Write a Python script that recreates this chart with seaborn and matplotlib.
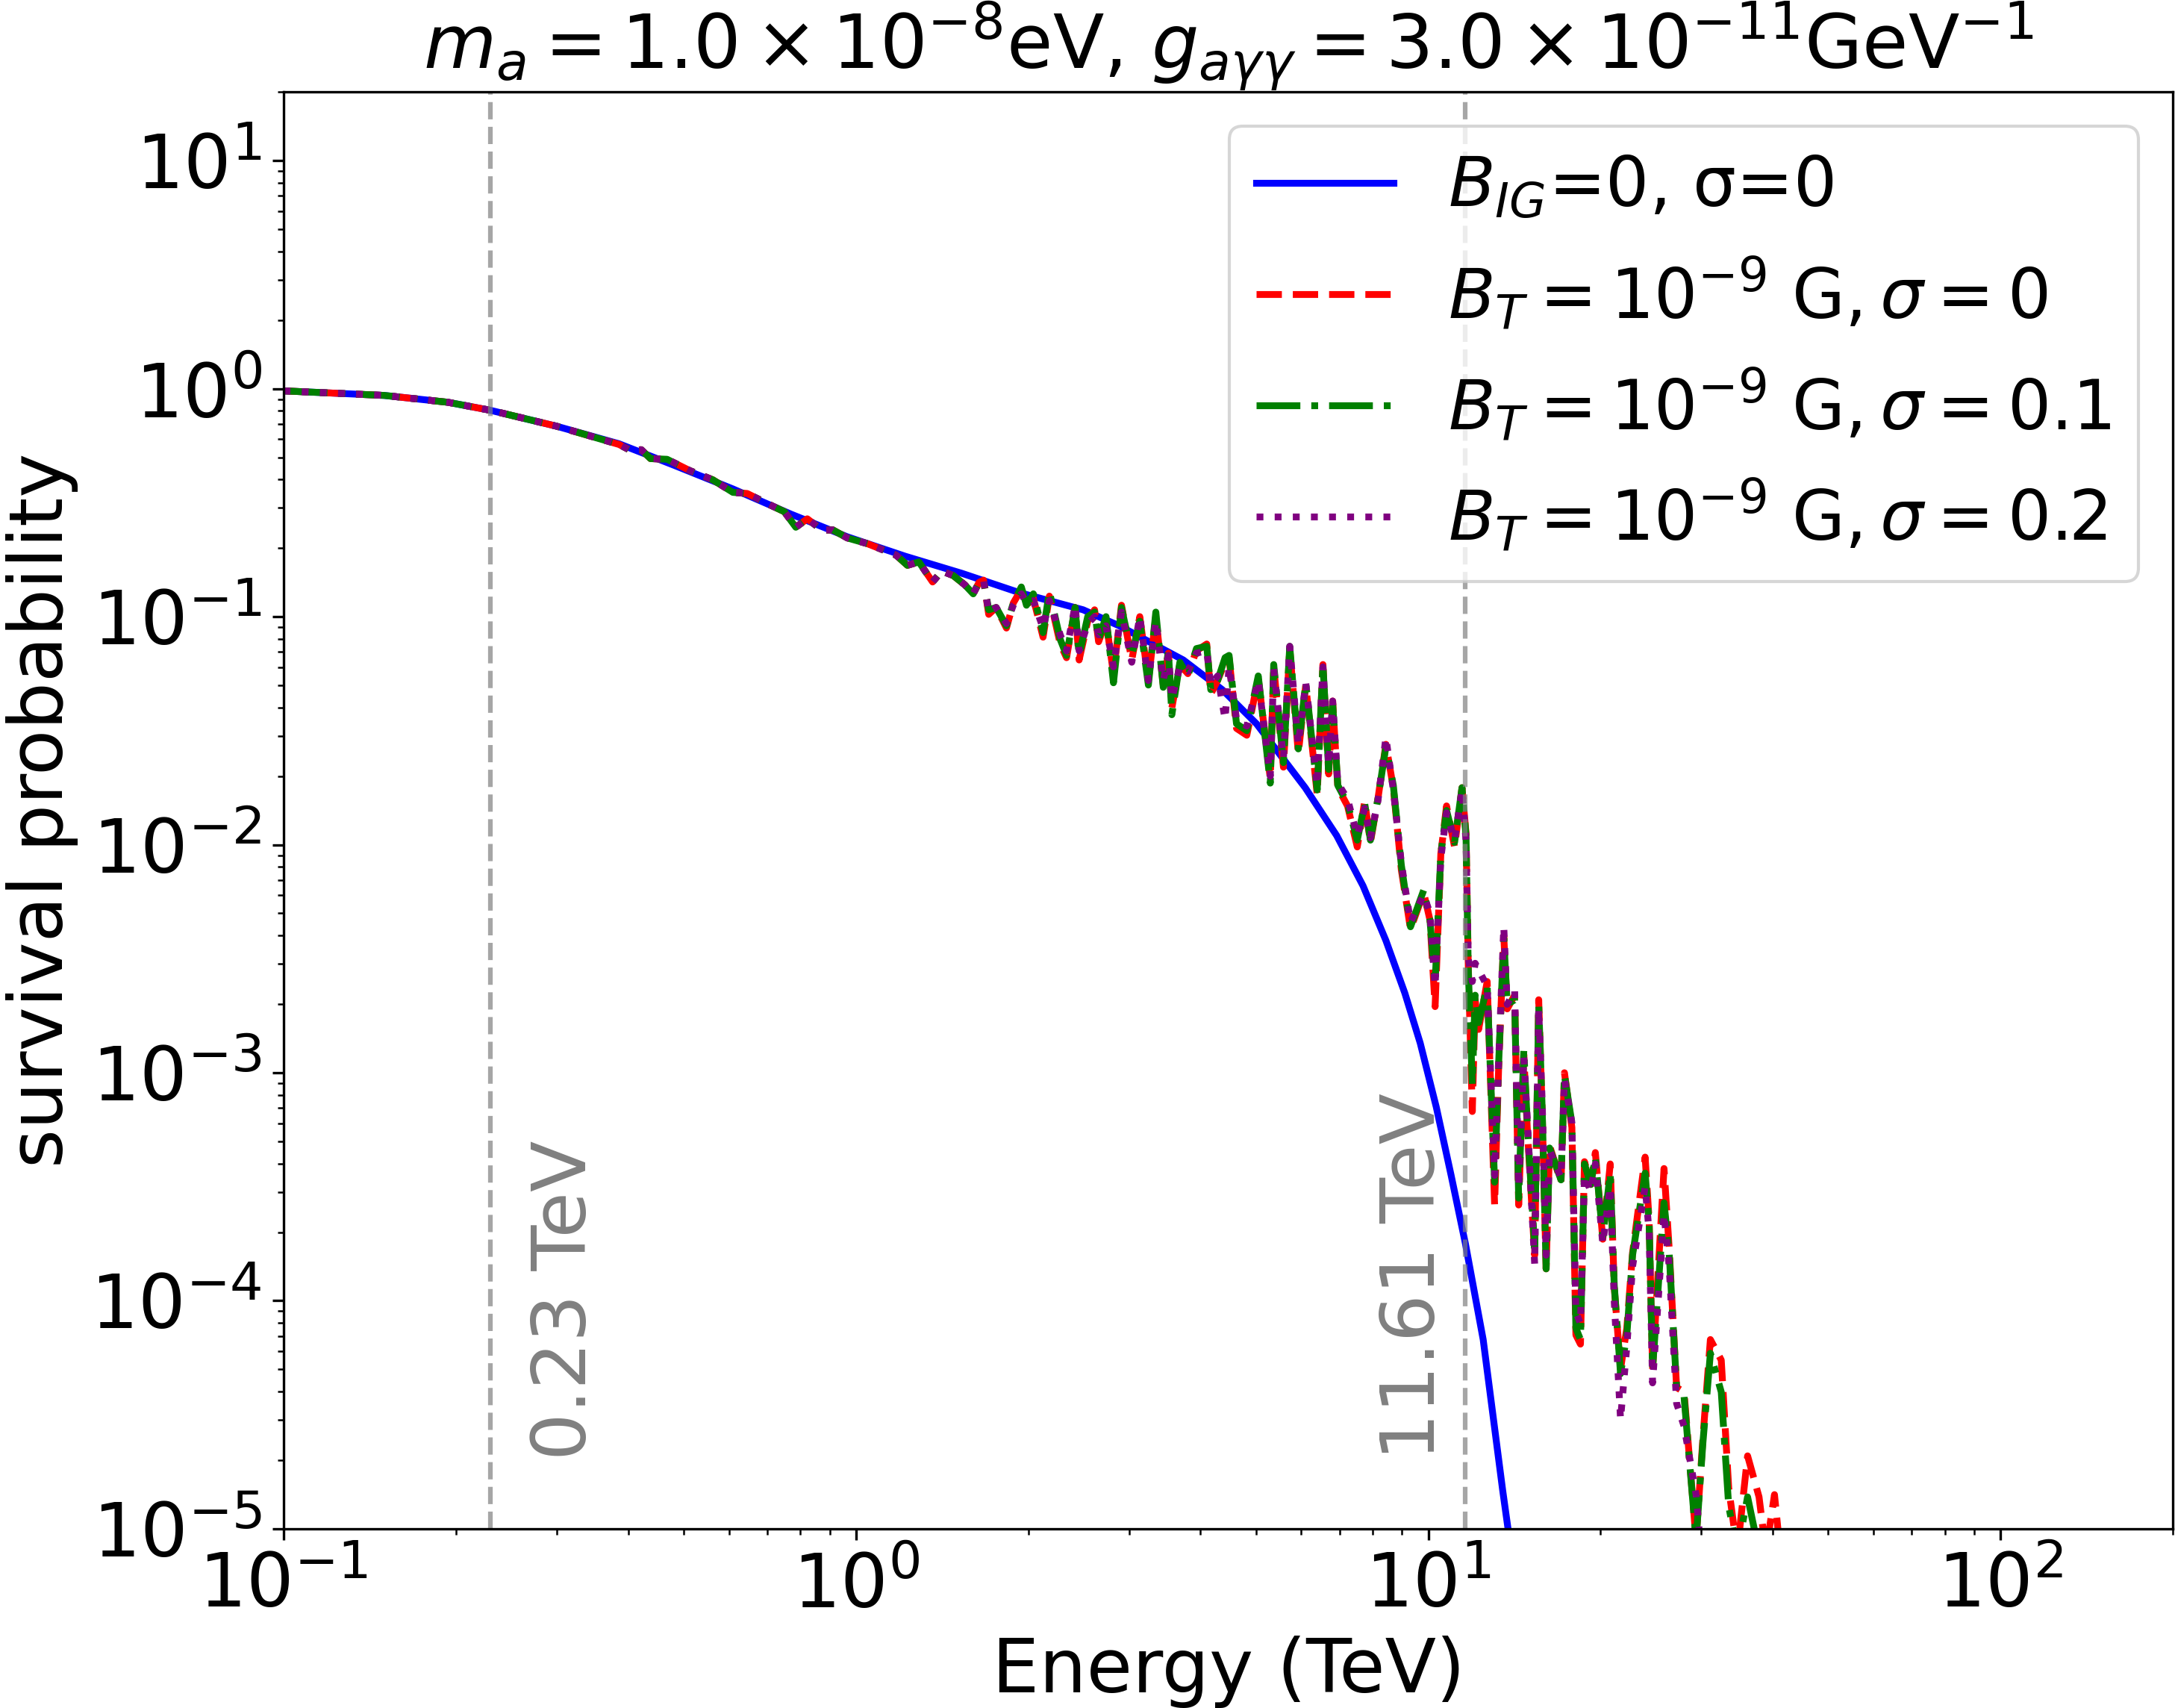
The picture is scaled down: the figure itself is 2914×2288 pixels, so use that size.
import matplotlib.pyplot as plt
import numpy as np
import pandas as pd
import seaborn as sns

# values, stored as log10(energy / TeV) and log10(probability)
blue_log_e = [-1.000, -0.824, -0.713, -0.639, -0.523, -0.414, -0.319, -0.215, -0.114, -0.015,
              0.086, 0.185, 0.286, 0.397, 0.460, 0.572, 0.640, 0.700, 0.785, 0.840,
              0.886, 0.926, 0.959, 0.986, 1.014, 1.040, 1.065, 1.096, 1.130, 1.145]
blue_log_p = [-0.010, -0.030, -0.060, -0.095, -0.165, -0.242, -0.335, -0.440, -0.550, -0.650,
              -0.735, -0.810, -0.895, -0.970, -1.040, -1.190, -1.320, -1.470, -1.750, -1.960,
              -2.180, -2.420, -2.650, -2.870, -3.150, -3.450, -3.750, -4.170, -4.830, -5.100]

# low-energy part where the three B_T curves lie on top of each other
low_log_e = [-1.000, -0.824, -0.713, -0.639, -0.523, -0.414, -0.394, -0.375, -0.359, -0.330,
             -0.290, -0.250, -0.215, -0.190, -0.150, -0.125, -0.105, -0.085, -0.070, -0.060,
             -0.040, -0.015, 0.020, 0.050, 0.070, 0.090, 0.110, 0.134, 0.150, 0.170,
             0.190, 0.205, 0.215, 0.223]
low_log_p = [-0.010, -0.030, -0.060, -0.095, -0.165, -0.245, -0.271, -0.268, -0.307, -0.310,
             -0.360, -0.400, -0.455, -0.460, -0.510, -0.540, -0.608, -0.571, -0.600, -0.620,
             -0.620, -0.655, -0.680, -0.710, -0.730, -0.775, -0.760, -0.848, -0.800, -0.820,
             -0.860, -0.900, -0.850, -0.840]

high_log_e = [0.232, 0.245, 0.263, 0.275, 0.289, 0.298, 0.310, 0.327, 0.338, 0.357,
              0.368, 0.383, 0.390, 0.405, 0.417, 0.424, 0.437, 0.450, 0.464, 0.482,
              0.496, 0.511, 0.524, 0.537, 0.546, 0.552, 0.566, 0.580, 0.595, 0.613,
              0.620, 0.632, 0.645, 0.652, 0.665, 0.683, 0.703, 0.724, 0.730, 0.747,
              0.758, 0.773, 0.786, 0.806, 0.816, 0.826, 0.833, 0.842, 0.859, 0.876,
              0.889, 0.899, 0.912, 0.926, 0.939, 0.953, 0.969, 0.992, 1.003, 1.012,
              1.022, 1.032, 1.046, 1.059, 1.066, 1.070, 1.077, 1.082, 1.088, 1.103,
              1.116, 1.123, 1.132, 1.138, 1.151, 1.158, 1.167, 1.173, 1.186, 1.193,
              1.199, 1.206, 1.212, 1.232, 1.238, 1.251, 1.258, 1.266, 1.273, 1.284,
              1.292, 1.305, 1.318, 1.325, 1.336, 1.347, 1.357, 1.379, 1.386, 1.392,
              1.412, 1.421, 1.434, 1.447, 1.468, 1.480, 1.493, 1.512, 1.525, 1.540,
              1.558, 1.578, 1.590, 1.605, 1.617]

red_log_p = [-0.99, -0.96, -1.05, -0.94, -0.88, -0.95, -0.92, -1.09, -0.91, -1.12,
             -1.18, -0.96, -1.19, -1.02, -0.97, -1.11, -1.02, -1.25, -0.95, -1.19,
             -1.00, -1.28, -1.00, -1.30, -1.16, -1.40, -1.21, -1.25, -1.15, -1.12,
             -1.34, -1.28, -1.20, -1.18, -1.49, -1.52, -1.27, -1.71, -1.22, -1.66,
             -1.14, -1.60, -1.30, -1.78, -1.21, -1.69, -1.37, -1.75, -1.83, -2.01,
             -1.81, -1.99, -1.80, -1.56, -1.75, -2.11, -2.37, -2.21, -2.33, -2.71,
             -2.04, -1.83, -2.01, -1.75, -1.95, -2.53, -3.17, -2.68, -2.81, -2.60,
             -3.58, -2.98, -2.40, -2.72, -2.66, -3.58, -2.92, -3.24, -3.80, -2.68,
             -3.16, -3.86, -3.32, -3.48, -3.00, -3.24, -4.15, -4.19, -3.39, -3.49,
             -3.35, -3.73, -3.40, -3.94, -4.30, -4.12, -3.79, -3.37, -3.65, -4.30,
             -3.42, -3.77, -4.38, -4.40, -5.05, -4.60, -4.17, -4.26, -4.82, -5.10,
             -4.68, -4.86, -5.10, -4.85, -5.15]

green_log_p = [-0.97, -0.96, -1.04, -0.94, -0.87, -0.95, -0.90, -1.07, -0.89, -1.10,
               -1.17, -0.96, -1.17, -1.00, -0.98, -1.10, -1.00, -1.29, -0.96, -1.17,
               -1.02, -1.30, -0.98, -1.31, -1.15, -1.43, -1.20, -1.26, -1.14, -1.13,
               -1.32, -1.28, -1.18, -1.17, -1.47, -1.50, -1.26, -1.73, -1.21, -1.64,
               -1.13, -1.58, -1.29, -1.76, -1.21, -1.67, -1.38, -1.74, -1.82, -1.98,
               -1.82, -1.98, -1.80, -1.57, -1.74, -2.09, -2.36, -2.20, -2.33, -2.61,
               -2.04, -1.85, -1.99, -1.75, -1.96, -2.55, -3.05, -2.66, -2.78, -2.62,
               -3.48, -2.96, -2.41, -2.70, -2.68, -3.55, -2.90, -3.22, -3.77, -2.70,
               -3.15, -3.86, -3.33, -3.47, -3.01, -3.22, -4.12, -4.17, -3.40, -3.49,
               -3.37, -3.72, -3.44, -3.93, -4.32, -4.15, -3.80, -3.44, -3.66, -4.30,
               -3.57, -3.79, -4.38, -4.42, -5.05, -4.62, -4.23, -4.40, -4.90, -5.10,
               -4.86, -5.10, -5.30, -5.30, -5.30]

purple_log_p = [-0.98, -0.96, -1.03, -0.95, -0.90, -0.94, -0.93, -1.05, -0.93, -1.08,
                -1.15, -0.95, -1.15, -1.03, -1.00, -1.08, -1.04, -1.22, -0.98, -1.20,
                -1.00, -1.28, -1.02, -1.28, -1.17, -1.36, -1.22, -1.24, -1.16, -1.15,
                -1.30, -1.26, -1.45, -1.22, -1.45, -1.48, -1.28, -1.70, -1.23, -1.62,
                -1.13, -1.56, -1.29, -1.74, -1.22, -1.65, -1.37, -1.73, -1.80, -1.96,
                -1.84, -1.97, -1.81, -1.53, -1.76, -2.08, -2.34, -2.22, -2.30, -2.62,
                -2.06, -1.86, -1.98, -1.76, -1.98, -2.50, -2.60, -2.52, -2.55, -2.62,
                -3.45, -2.95, -2.36, -2.70, -2.64, -3.50, -2.93, -3.20, -3.84, -2.72,
                -3.12, -3.80, -3.34, -3.46, -3.03, -3.22, -4.05, -4.10, -3.45, -3.52,
                -3.40, -3.75, -3.50, -4.00, -4.52, -4.20, -3.85, -3.50, -3.70, -4.36,
                -3.62, -3.85, -4.45, -4.55, -4.85, -5.20]

series = [
    (r'$B_{IG}$=0, σ=0', blue_log_e, blue_log_p, 'blue', '-'),
    (r'$B_T = 10^{-9}$ G$, \sigma = 0$', low_log_e + high_log_e, low_log_p + red_log_p, 'red', '--'),
    (r'$B_T = 10^{-9}$ G$, \sigma = 0.1$', low_log_e + high_log_e, low_log_p + green_log_p, 'green', '-.'),
    (r'$B_T = 10^{-9}$ G$, \sigma = 0.2$', low_log_e + high_log_e[:len(purple_log_p)],
     low_log_p + purple_log_p, 'purple', ':'),
]

marker_energies = [0.23, 11.61]

fig, ax = plt.subplots(figsize=(2914 / 300, 2288 / 300), dpi=300)
fig.subplots_adjust(left=0.1304, right=0.999, bottom=0.1049, top=0.9462)

for label, log_e, log_p, color, ls in series:
    df = pd.DataFrame({'energy': 10 ** np.array(log_e), 'prob': 10 ** np.array(log_p)})
    sns.lineplot(data=df, x='energy', y='prob', color=color, linestyle=ls, linewidth=2.2,
                 estimator=None, sort=False, label=label, ax=ax)

ax.set_xscale('log')
ax.set_yscale('log')
ax.set_xlim(0.1, 200)
ax.set_ylim(1e-5, 20)

for e, dx, ha in zip(marker_energies, [12.5, -4.8], ['left', 'right']):
    ax.axvline(e, color='gray', linestyle='--', alpha=0.7, linewidth=1.5)
    ax.annotate(f'{e:.2f} TeV', xy=(e, 2e-5), xytext=(dx, 0), textcoords='offset points',
                rotation=90, ha=ha, va='bottom', color='gray', fontsize=24)

ax.set_xlabel('Energy (TeV)', fontsize=24)
ax.set_ylabel('survival probability', fontsize=24)
ax.set_title(r'$m_a = 1.0 \times 10^{-8}$eV, $g_{a\gamma\gamma} = 3.0 \times 10^{-11}$GeV$^{-1}$',
             fontsize=24)
ax.tick_params(axis='both', which='major', labelsize=24)
ax.legend(fontsize=22, loc='upper right')

fig.savefig('out.png', dpi=300)
